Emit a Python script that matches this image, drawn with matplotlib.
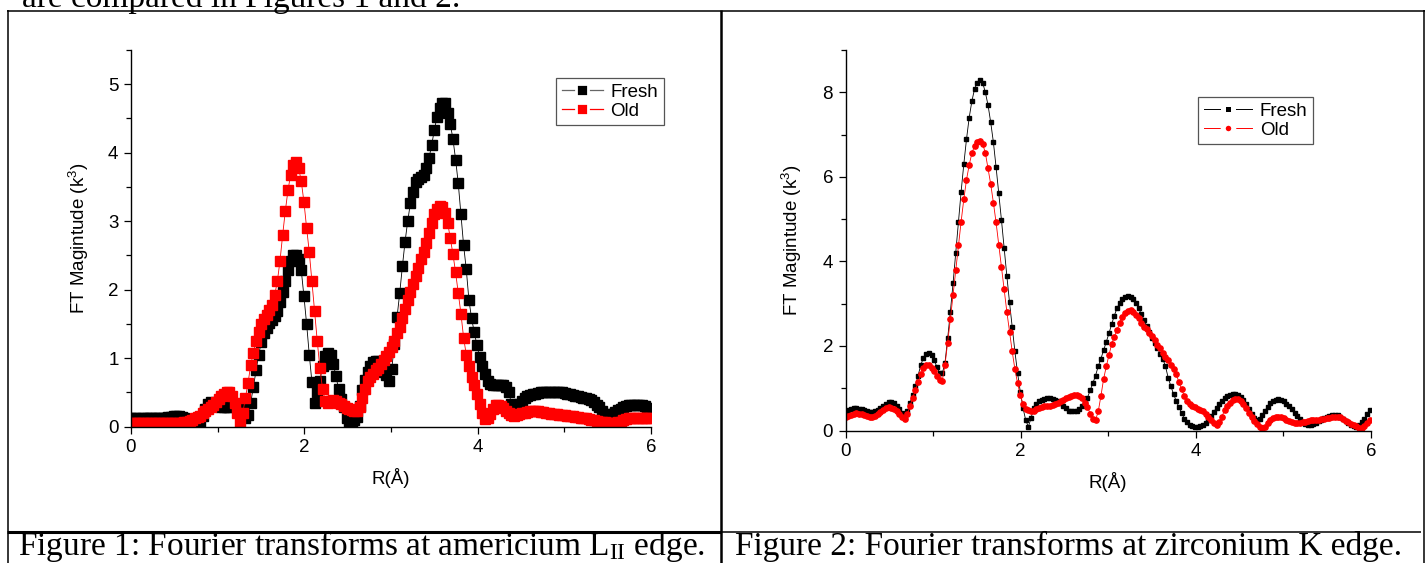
import numpy as np
import matplotlib
matplotlib.use("Agg")
import matplotlib.pyplot as plt
from matplotlib.lines import Line2D

plt.rcParams['font.family'] = ['Liberation Sans', 'DejaVu Sans']

# R grid (Å), uniform FT grid
r = np.arange(196) * 0.0307

# Figure 1: americium L_II edge
am_fresh = [
    0.12,0.12,0.12,0.11,0.12,0.12,0.12,0.12,0.12,0.12,
    0.12,0.13,0.13,0.13,0.14,0.14,0.15,0.15,0.15,0.14,
    0.13,0.11,0.08,0.05,0.03,0.02,0.06,0.15,0.25,0.33,
    0.36,0.35,0.33,0.31,0.29,0.28,0.28,0.29,0.31,0.32,
    0.30,0.26,0.21,0.13,0.17,0.35,0.58,0.82,1.05,1.24,
    1.36,1.44,1.51,1.56,1.62,1.68,1.82,1.97,2.13,2.28,
    2.42,2.50,2.51,2.45,2.28,1.90,1.50,1.05,0.65,0.35,
    0.50,0.67,0.88,1.03,1.07,1.05,0.92,0.74,0.55,0.40,
    0.28,0.12,0.04,0.05,0.10,0.14,0.30,0.53,0.68,0.80,
    0.88,0.94,0.96,0.95,0.88,0.80,0.75,0.67,0.84,1.20,
    1.60,1.95,2.34,2.70,3.00,3.26,3.43,3.57,3.62,3.64,
    3.67,3.77,3.92,4.11,4.33,4.52,4.66,4.72,4.72,4.58,
    4.42,4.20,3.90,3.55,3.10,2.65,2.30,1.85,1.58,1.38,
    1.19,1.02,0.88,0.76,0.66,0.62,0.61,0.61,0.61,0.61,
    0.60,0.57,0.50,0.33,0.27,0.28,0.33,0.37,0.41,0.44,
    0.46,0.47,0.48,0.49,0.50,0.50,0.51,0.51,0.51,0.51,
    0.50,0.50,0.50,0.49,0.48,0.47,0.46,0.45,0.44,0.43,
    0.42,0.41,0.40,0.38,0.36,0.32,0.28,0.22,0.18,0.15,
    0.15,0.18,0.21,0.24,0.26,0.28,0.30,0.31,0.32,0.32,
    0.32,0.32,0.31,0.30,0.27,0.24]
am_old = [
    0.05,0.05,0.05,0.05,0.05,0.05,0.05,0.05,0.05,0.05,
    0.05,0.05,0.05,0.05,0.05,0.05,0.05,0.05,0.05,0.05,
    0.06,0.07,0.08,0.10,0.12,0.14,0.16,0.19,0.22,0.25,
    0.29,0.32,0.36,0.40,0.44,0.48,0.51,0.50,0.45,0.34,
    0.20,0.05,0.19,0.42,0.64,0.90,1.08,1.25,1.38,1.50,
    1.57,1.63,1.70,1.78,1.92,2.12,2.42,2.80,3.15,3.45,
    3.68,3.82,3.86,3.78,3.58,3.28,2.90,2.55,2.12,1.68,
    1.25,0.85,0.55,0.37,0.35,0.37,0.38,0.37,0.35,0.33,
    0.30,0.27,0.25,0.24,0.23,0.23,0.28,0.42,0.55,0.66,
    0.72,0.77,0.82,0.86,0.91,0.97,1.03,1.09,1.16,1.25,
    1.36,1.46,1.58,1.72,1.85,1.97,2.08,2.20,2.32,2.44,
    2.55,2.68,2.82,2.98,3.10,3.18,3.22,3.20,3.12,2.98,
    2.75,2.52,2.25,1.95,1.65,1.30,1.05,0.88,0.72,0.60,
    0.47,0.33,0.20,0.11,0.13,0.18,0.26,0.31,0.32,0.30,
    0.27,0.22,0.19,0.17,0.16,0.17,0.18,0.19,0.20,0.21,
    0.22,0.22,0.22,0.22,0.21,0.21,0.20,0.19,0.18,0.18,
    0.18,0.17,0.17,0.17,0.16,0.16,0.15,0.14,0.14,0.13,
    0.12,0.12,0.11,0.10,0.09,0.08,0.07,0.07,0.06,0.05,
    0.05,0.05,0.05,0.06,0.07,0.09,0.11,0.12,0.13,0.13,
    0.13,0.13,0.13,0.13,0.13,0.13]

# Figure 2: zirconium K edge
zr_fresh = [
    .45,.48,.51,.53,.53,.52,.50,.48,.45,.43,
    .43,.45,.49,.53,.58,.63,.67,.67,.65,.58,
    .50,.41,.34,.45,.65,.85,1.05,1.30,1.55,1.72,
    1.81,1.83,1.78,1.66,1.50,1.37,1.35,1.60,2.18,2.81,
    3.48,4.21,4.94,5.65,6.30,6.89,7.40,7.79,8.08,8.23,
    8.29,8.23,8.00,7.70,7.29,6.82,6.23,5.61,4.98,4.31,
    3.66,3.03,2.44,1.87,1.36,0.92,0.54,0.25,0.09,0.29,
    .53,.63,.69,.73,.75,.76,.76,.75,.73,.69,
    .65,.59,.53,.47,.45,.45,.47,.52,.58,.68,
    .78,.95,1.12,1.30,1.52,1.70,1.90,2.10,2.30,2.52,
    2.72,2.90,3.02,3.10,3.15,3.17,3.16,3.11,3.02,2.90,
    2.75,2.62,2.48,2.33,2.18,2.06,1.95,1.82,1.70,1.52,
    1.25,1.05,.86,.70,.55,.42,.28,.20,.13,.10,
    .08,.08,.10,.12,.18,.25,.34,.44,.54,.63,
    .70,.76,.81,.85,.87,.87,.85,.80,.71,.62,
    .50,.40,.30,.26,.27,.36,.47,.56,.64,.70,
    .73,.74,.73,.69,.63,.57,.50,.42,.35,.27,
    .20,.16,.13,.13,.15,.18,.22,.26,.29,.32,
    .34,.36,.37,.36,.33,.28,.23,.18,.14,.10,
    .08,.12,.19,.28,.38,.48]
zr_old = [
    .33,.35,.37,.39,.41,.40,.39,.37,.35,.33,
    .33,.35,.38,.43,.48,.53,.55,.54,.51,.45,
    .38,.31,.27,.38,.58,.78,.95,1.14,1.33,1.47,
    1.54,1.55,1.49,1.40,1.28,1.19,1.18,1.55,2.08,2.63,
    3.21,3.80,4.39,4.94,5.47,5.93,6.28,6.56,6.73,6.83,
    6.85,6.78,6.57,6.20,5.83,5.39,4.92,4.39,3.86,3.34,
    2.81,2.34,1.87,1.45,1.12,0.84,0.63,0.52,0.48,0.46,
    .47,.50,.53,.55,.57,.58,.59,.61,.63,.66,
    .69,.72,.76,.80,.82,.83,.83,.81,.76,.66,
    .55,.40,.28,.25,.45,.82,1.22,1.52,1.78,2.05,
    2.22,2.38,2.55,2.68,2.77,2.83,2.84,2.80,2.73,2.65,
    2.54,2.45,2.39,2.31,2.23,2.13,2.03,1.94,1.84,1.75,
    1.66,1.55,1.45,1.34,1.14,.98,.82,.70,.63,.58,
    .55,.52,.49,.45,.39,.33,.25,.17,.12,.20,
    .33,.48,.59,.66,.71,.74,.74,.70,.63,.54,
    .42,.32,.22,.15,.09,.06,.09,.17,.25,.29,
    .31,.32,.31,.29,.26,.23,.19,.17,.17,.18,
    .19,.21,.23,.24,.25,.26,.26,.27,.28,.29,
    .30,.31,.32,.32,.31,.28,.23,.19,.15,.12,
    .10,.07,.07,.11,.17,.24]

series_labels = ["Fresh", "Old"]
x_ticks = [0, 2, 4, 6]
caption1 = r"Figure 1: Fourier transforms at americium $\mathregular{L_{II}}$ edge."
caption2 = "Figure 2: Fourier transforms at zirconium K edge."
top_text = "are compared in Figures 1 and 2."

W, H = 1425, 563
fig = plt.figure(figsize=(W / 100, H / 100), dpi=100)

def px_axes(x0, x1, ytop, ybot):
    return [x0 / W, (H - ybot) / H, (x1 - x0) / W, (ybot - ytop) / H]

FS = 13.5

def style_axes(ax, ymax, ymajor, yminor):
    ax.set_xlim(0, 6)
    ax.set_ylim(0, ymax)
    for s in ("top", "right"):
        ax.spines[s].set_visible(False)
    for s in ("left", "bottom"):
        ax.spines[s].set_linewidth(1.0)
    ax.set_xticks(x_ticks)
    ax.set_xticks([1, 3, 5], minor=True)
    ax.set_yticks(np.arange(0, ymax + 0.01, ymajor))
    ax.set_yticks(np.arange(0, ymax + 0.01, yminor), minor=True)
    ax.tick_params(which="major", direction="out", length=5, width=0.9, labelsize=FS, pad=4)
    ax.tick_params(which="minor", direction="out", length=3.5, width=0.9)
    ax.set_xlabel("R(Å)", fontsize=FS)
    ax.set_ylabel(r"FT Magintude ($\mathregular{k^3}$)", fontsize=FS)
    ax.patch.set_alpha(0)

# Panel 1
ax1 = fig.add_axes(px_axes(131, 651, 50, 426.5))
ax1.plot(r, am_fresh, color="black", lw=0.6, marker="s", ms=6.5, mec="black", mfc="black", label=series_labels[0])
ax1.plot(r, am_old, color="red", lw=0.6, marker="s", ms=6.5, mec="red", mfc="red", label=series_labels[1])
style_axes(ax1, 5.5, 1, 0.5)
ax1.set_yticks([0, 1, 2, 3, 4, 5])
ax1.xaxis.set_label_coords(0.5, -0.11)
ax1.yaxis.set_label_coords(-0.077, 0.5)
h1 = [Line2D([], [], color="#666666", lw=0.9, marker="s", ms=8.5, mfc="black", mec="white", mew=2.0),
      Line2D([], [], color="red", lw=0.9, marker="s", ms=8.5, mfc="red", mec="white", mew=2.0)]
leg1 = ax1.legend(h1, series_labels, loc="upper left", bbox_to_anchor=(556 / W, 1 - 78 / H),
                  bbox_transform=fig.transFigure, fancybox=False, edgecolor="#555555",
                  borderaxespad=0, handlelength=2.2, handletextpad=0.4, borderpad=0.3,
                  labelspacing=0.1, fontsize=FS, numpoints=1, framealpha=1)
leg1.get_frame().set_linewidth(0.9)

# Panel 2
ax2 = fig.add_axes(px_axes(845.5, 1371, 50, 430.5))
ax2.plot(r, zr_fresh, color="black", lw=0.6, marker="s", ms=3.4, mec="black", mfc="black", label=series_labels[0])
ax2.plot(r, zr_old, color="red", lw=0.6, marker="o", ms=3.8, mec="red", mfc="red", label=series_labels[1])
style_axes(ax2, 9, 2, 1)
ax2.xaxis.set_label_coords(0.5, -0.109)
ax2.yaxis.set_label_coords(-0.079, 0.5)
h2 = [Line2D([], [], color="black", lw=0.7, marker="s", ms=7.2, mfc="black", mec="white", mew=3.6),
      Line2D([], [], color="red", lw=0.7, marker="o", ms=7.6, mfc="red", mec="white", mew=3.6)]
leg2 = ax2.legend(h2, series_labels, loc="upper left", bbox_to_anchor=(1198 / W, 1 - 97 / H),
                  bbox_transform=fig.transFigure, fancybox=False, edgecolor="#555555",
                  borderaxespad=0, handlelength=2.6, handletextpad=0.4, borderpad=0.3,
                  labelspacing=0.1, fontsize=FS, numpoints=1, framealpha=1)
leg2.get_frame().set_linewidth(0.9)

# Document table lines (pixel coordinates from the top-left)
def hline(y, x0, x1, lw):
    fig.add_artist(Line2D([x0 / W, x1 / W], [1 - y / H, 1 - y / H], color="black", lw=lw,
                          transform=fig.transFigure, solid_capstyle="butt"))

def vline(x, y0, y1, lw):
    fig.add_artist(Line2D([x / W, x / W], [1 - y0 / H, 1 - y1 / H], color="black", lw=lw,
                          transform=fig.transFigure, solid_capstyle="butt"))

hline(10.5, 7, 1425, 1.1)
vline(8, 10, 563, 1.1)
vline(720.5, 10, 563, 1.8)
vline(1423.5, 10, 563, 1.1)
hline(531.5, 7, 721, 2.2)
hline(532, 721, 1421, 1.1)

serif = ["Liberation Serif", "DejaVu Serif"]
fig.text(18 / W, 1 - 555 / H, caption1, family=serif, fontsize=24, va="baseline", ha="left")
fig.text(735 / W, 1 - 555 / H, caption2, family=serif, fontsize=24, va="baseline", ha="left")
fig.text(22 / W, 1 - 7 / H, top_text, family=serif, fontsize=24, va="baseline", ha="left")

fig.savefig("out.png", dpi=100)
